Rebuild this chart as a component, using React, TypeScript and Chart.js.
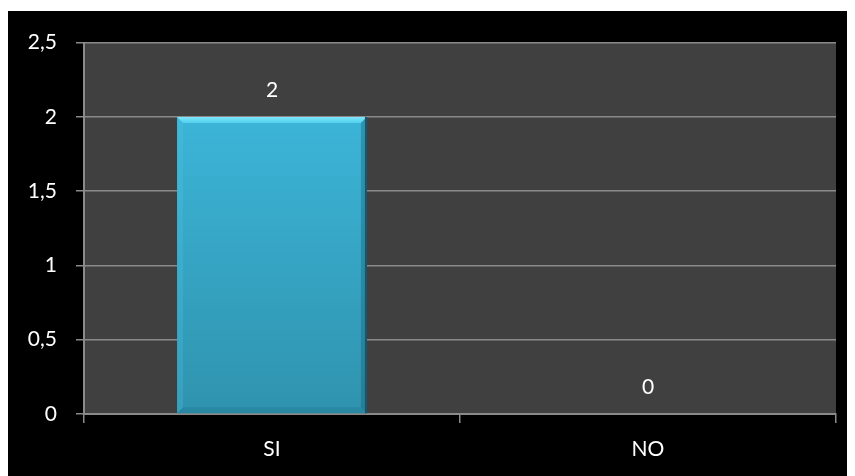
import React, { useEffect, useRef } from "react";
import { Chart, registerables } from "chart.js";

Chart.register(...registerables);

const categories = ["SI", "NO"];
const values = [2, 0];
const yMax = 2.5;
const yStep = 0.5;

const FONT = "Lato, 'Open Sans', sans-serif";

const bgPlugin = {
  id: "bgPlugin",
  beforeDraw(chart: any) {
    const { ctx, chartArea, width, height } = chart;
    ctx.save();
    ctx.fillStyle = "#000000";
    ctx.fillRect(0, 0, width, height);
    ctx.fillStyle = "#404040";
    ctx.fillRect(chartArea.left, chartArea.top, chartArea.right - chartArea.left, chartArea.bottom - chartArea.top);
    ctx.restore();
  },
};

const bevelPlugin = {
  id: "bevelPlugin",
  afterDatasetsDraw(chart: any) {
    const { ctx } = chart;
    const meta = chart.getDatasetMeta(0);
    ctx.save();
    meta.data.forEach((el: any) => {
      const left = el.x - el.width / 2;
      const right = el.x + el.width / 2;
      const top = Math.min(el.y, el.base);
      const bottom = Math.max(el.y, el.base);
      const h = bottom - top;
      if (h < 12) return;
      const b = 6;
      const gt = ctx.createLinearGradient(0, top, 0, top + b);
      gt.addColorStop(0, "#7fe8fc");
      gt.addColorStop(1, "#52d0ee");
      ctx.fillStyle = gt;
      ctx.beginPath();
      ctx.moveTo(left, top);
      ctx.lineTo(right, top);
      ctx.lineTo(right - b, top + b);
      ctx.lineTo(left + b, top + b);
      ctx.closePath();
      ctx.fill();
      ctx.fillStyle = "rgba(80,200,230,0.25)";
      ctx.beginPath();
      ctx.moveTo(left, top);
      ctx.lineTo(left + b, top + b);
      ctx.lineTo(left + b, bottom - b);
      ctx.lineTo(left, bottom);
      ctx.closePath();
      ctx.fill();
      ctx.fillStyle = "rgba(20,90,115,0.35)";
      ctx.beginPath();
      ctx.moveTo(right, top);
      ctx.lineTo(right - b, top + b);
      ctx.lineTo(right - b, bottom - b);
      ctx.lineTo(right, bottom);
      ctx.closePath();
      ctx.fill();
      ctx.fillStyle = "#17566a";
      ctx.fillRect(right - 2, top, 2, h);
      ctx.fillStyle = "rgba(30,110,135,0.3)";
      ctx.beginPath();
      ctx.moveTo(left, bottom);
      ctx.lineTo(left + b, bottom - b);
      ctx.lineTo(right - b, bottom - b);
      ctx.lineTo(right, bottom);
      ctx.closePath();
      ctx.fill();
    });
    ctx.restore();
  },
};

const labelPlugin = {
  id: "labelPlugin",
  afterDatasetsDraw(chart: any) {
    const { ctx } = chart;
    const meta = chart.getDatasetMeta(0);
    ctx.save();
    ctx.fillStyle = "#ffffff";
    ctx.font = "21px " + FONT;
    ctx.textAlign = "center";
    ctx.textBaseline = "middle";
    meta.data.forEach((el: any, i: number) => {
      ctx.fillText(String(values[i]).replace(".", ","), el.x, el.y - 27);
    });
    ctx.restore();
  },
};

export default function App() {
  const ref = useRef<HTMLCanvasElement>(null);
  useEffect(() => {
    if (!ref.current) return;
    const chart = new Chart(ref.current, {
      type: "bar",
      data: {
        labels: categories,
        datasets: [
          {
            data: values,
            backgroundColor: (c: any) => {
              const { chart } = c;
              const area = chart.chartArea;
              if (!area) return "#3bb8dc";
              const g = chart.ctx.createLinearGradient(0, area.top, 0, area.bottom);
              g.addColorStop(0, "#3fbde2");
              g.addColorStop(1, "#2f93ae");
              return g;
            },
            borderWidth: 0,
            categoryPercentage: 1,
            barPercentage: 0.505,
          },
        ],
      },
      options: {
        animation: false,
        responsive: false,
        maintainAspectRatio: false,
        layout: { padding: { top: 30, right: 19, left: 0, bottom: 0 } },
        plugins: { legend: { display: false }, tooltip: { enabled: false } },
        scales: {
          x: {
            grid: { display: true, drawOnChartArea: false, color: "#8a8a8a", tickLength: 9, offset: true, lineWidth: 1.5 },
            border: { color: "#8a8a8a", width: 2 },
            ticks: { color: "#ffffff", font: { size: 21, family: FONT }, padding: 14 },
            afterFit(scale: any) {
              scale.height = 62;
            },
          },
          y: {
            min: 0,
            max: yMax,
            grid: { color: "#8a8a8a", tickLength: 8, lineWidth: 1.5 },
            border: { color: "#8a8a8a", width: 2 },
            ticks: {
              stepSize: yStep,
              color: "#ffffff",
              font: { size: 21, family: FONT },
              padding: 19,
              callback: (v: any) => String(v).replace(".", ","),
            },
            afterFit(scale: any) {
              scale.width = 76;
            },
          },
        },
      },
      plugins: [bgPlugin, bevelPlugin, labelPlugin],
    });
    return () => chart.destroy();
  }, []);
  return (
    <div style={{ marginTop: 3, width: 847, height: 465 }}>
      <canvas ref={ref} width={847} height={465} style={{ display: "block" }} />
    </div>
  );
}
